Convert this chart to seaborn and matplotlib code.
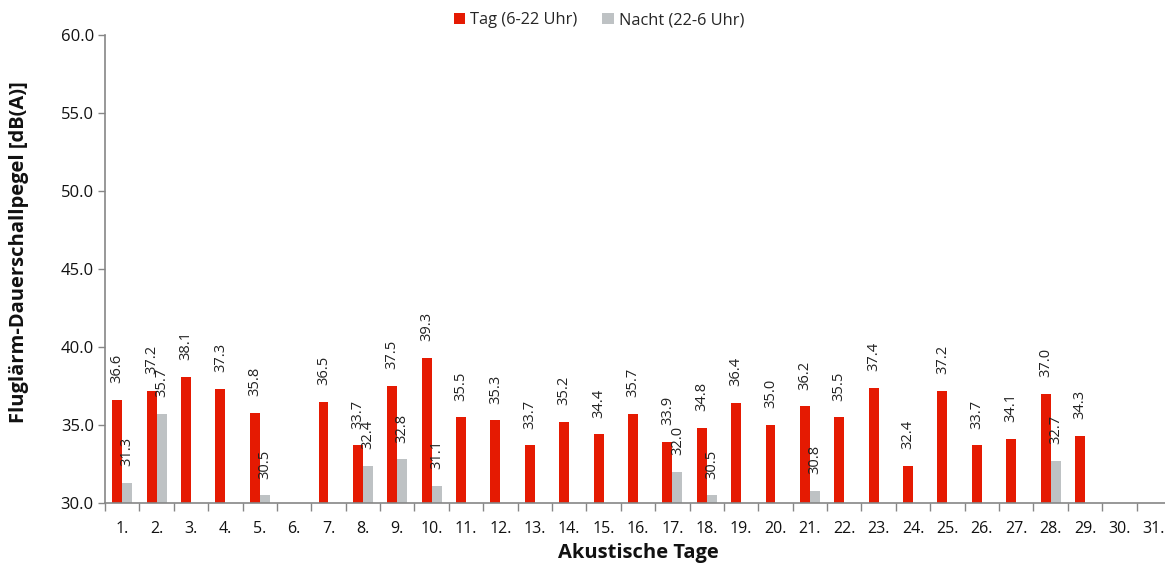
import numpy as np
import pandas as pd
import matplotlib
matplotlib.use("Agg")
import matplotlib.pyplot as plt
import seaborn as sns

days = [f"{i}." for i in range(1, 32)]
tag = [36.6, 37.2, 38.1, 37.3, 35.8, np.nan, 36.5, 33.7, 37.5, 39.3,
       35.5, 35.3, 33.7, 35.2, 34.4, 35.7, 33.9, 34.8, 36.4, 35.0,
       36.2, 35.5, 37.4, 32.4, 37.2, 33.7, 34.1, 37.0, 34.3, np.nan, np.nan]
nacht = [31.3, 35.7, np.nan, np.nan, 30.5, np.nan, np.nan, 32.4, 32.8, 31.1,
         np.nan, np.nan, np.nan, np.nan, np.nan, np.nan, 32.0, 30.5, np.nan, np.nan,
         30.8, np.nan, np.nan, np.nan, np.nan, np.nan, np.nan, 32.7, np.nan, np.nan, np.nan]
series = ["Tag (6-22 Uhr)", "Nacht (22-6 Uhr)"]
yticks = [30.0, 35.0, 40.0, 45.0, 50.0, 55.0, 60.0]

df = pd.DataFrame({
    "Tag": days * 2,
    "Wert": tag + nacht,
    "Serie": [series[0]] * len(days) + [series[1]] * len(days),
})

sns.set_theme(style="white")
plt.rcParams["font.family"] = ["Open Sans", "DejaVu Sans"]

fig = plt.figure(figsize=(11.65, 5.66), dpi=100)
ax = fig.add_axes([0.0901, 0.1113, 0.915, 0.8269])

sns.barplot(data=df, x="Tag", y="Wert", hue="Serie", order=days, hue_order=series,
            palette=["#E51A02", "#BEC2C4"], saturation=1, width=0.58, ax=ax, legend=True,
            edgecolor="none", linewidth=0)

for cont in ax.containers:
    ax.bar_label(cont, fmt="%.1f", padding=12, rotation=90, fontsize=10.5, color="#222222")

ax.set_ylim(30, 60)
ax.set_yticks(yticks)
ax.set_yticklabels([f"{v:.1f}" for v in yticks], fontsize=12)
ax.set_xlim(-0.5, 30.5)
ax.set_xticks(range(len(days)))
ax.set_xticklabels(days, fontsize=11.5)
ax.set_xticks(np.arange(-0.5, 31, 1), minor=True)
ax.tick_params(axis="x", which="major", length=0, pad=13, colors="#111111")
ax.tick_params(axis="x", which="minor", length=6, width=1, color="#868686", direction="out", bottom=True)
ax.tick_params(axis="y", length=5, width=1, direction="out", left=True, pad=3,
               color="#868686", labelcolor="#111111")

for s in ["top", "right"]:
    ax.spines[s].set_visible(False)
for s in ["left", "bottom"]:
    ax.spines[s].set_color("#868686")
    ax.spines[s].set_linewidth(1.2)

ax.set_xlabel("Akustische Tage", fontsize=14.5, fontweight="bold", labelpad=4, color="#111111")
ax.set_ylabel("Fluglärm-Dauerschallpegel [dB(A)]", fontsize=14.5, fontweight="bold",
              color="#111111")
ax.yaxis.set_label_coords(-0.0713, 0.536)

ax.legend(loc="center", bbox_to_anchor=(0.4634, 1.0316), ncol=2, frameon=False,
          fontsize=11.8, handlelength=0.7, handleheight=0.7, handletextpad=0.3, columnspacing=1.5,
          title=None)

fig.savefig("out.png", dpi=100)
